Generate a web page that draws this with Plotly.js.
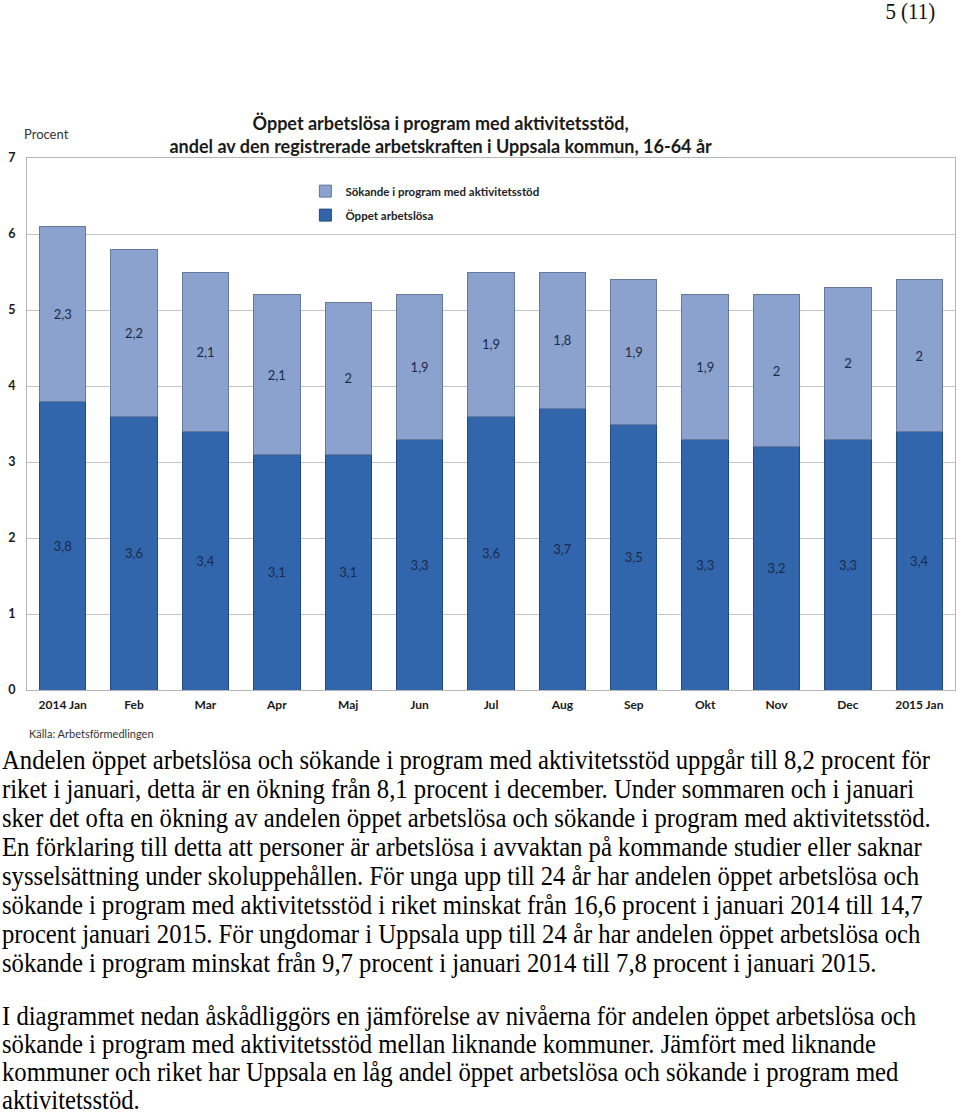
<!DOCTYPE html>
<html>
<head>
<meta charset="utf-8">
<script src="https://cdn.plot.ly/plotly-3.0.1.min.js"></script>
<style>
  html, body { margin:0; padding:0; background:#fff; }
  body { width:960px; height:1115px; position:relative; overflow:hidden; }
  #chart { position:absolute; left:0; top:0; width:960px; height:745px; z-index:1; }
  .pg { position:absolute; right:25px; top:-3px; z-index:5; font-family:"Liberation Serif","Times New Roman",serif; font-size:24px; line-height:28px; color:#111; transform:scaleX(0.87); transform-origin:100% 0; }
  .txt { position:absolute; left:2px; z-index:2; font-family:"Liberation Serif","Times New Roman",serif; font-size:27px; color:#000; white-space:nowrap; line-height:29px; transform-origin:0 0; }
  #measure { position:absolute; left:0; top:-200px; font-family:"Liberation Serif","Times New Roman",serif; font-size:27px; white-space:nowrap; visibility:hidden; }
</style>
</head>
<body>
<div id="chart"></div>
<div class="pg">5 (11)</div>
<span id="measure">Andelen öppet arbetslösa och sökande i program med aktivitetsstöd uppgår till 8,2 procent för</span>
<div class="txt" id="p1" style="top:746px;">
Andelen öppet arbetslösa och sökande i program med aktivitetsstöd uppgår till 8,2 procent för<br>
riket i januari, detta är en ökning från 8,1 procent i december. Under sommaren och i januari<br>
sker det ofta en ökning av andelen öppet arbetslösa och sökande i program med aktivitetsstöd.<br>
En förklaring till detta att personer är arbetslösa i avvaktan på kommande studier eller saknar<br>
sysselsättning under skoluppehållen. För unga upp till 24 år har andelen öppet arbetslösa och<br>
sökande i program med aktivitetsstöd i riket minskat från 16,6 procent i januari 2014 till 14,7<br>
procent januari 2015. För ungdomar i Uppsala upp till 24 år har andelen öppet arbetslösa och<br>
sökande i program minskat från 9,7 procent i januari 2014 till 7,8 procent i januari 2015.
</div>
<div class="txt" id="p2" style="top:1002px; line-height:28px;">
I diagrammet nedan åskådliggörs en jämförelse av nivåerna för andelen öppet arbetslösa och<br>
sökande i program med aktivitetsstöd mellan liknande kommuner. Jämfört med liknande<br>
kommuner och riket har Uppsala en låg andel öppet arbetslösa och sökande i program med<br>
aktivitetsstöd.
</div>
<script>
(function(){
  const w = document.getElementById('measure').getBoundingClientRect().width;
  const s = 928 / w;
  document.getElementById('p1').style.transform = 'scaleX(' + s + ')';
  document.getElementById('p2').style.transform = 'scaleX(' + s + ')';
})();

const months = ["2014 Jan","Feb","Mar","Apr","Maj","Jun","Jul","Aug","Sep","Okt","Nov","Dec","2015 Jan"];
const oppetArbetslosa = [3.8,3.6,3.4,3.1,3.1,3.3,3.6,3.7,3.5,3.3,3.2,3.3,3.4];
const sokandeProgram = [2.3,2.2,2.1,2.1,2.0,1.9,1.9,1.8,1.9,1.9,2.0,2.0,2.0];
const yTicks = [0,1,2,3,4,5,6,7];

const fmt = v => String(v).replace('.', ',');
const F = "Lato, 'Open Sans', sans-serif";

const traces = [
  {
    type:'bar', name:'Öppet arbetslösa', x:months, y:oppetArbetslosa,
    text: oppetArbetslosa.map(fmt), textposition:'inside', insidetextanchor:'middle',
    textangle:0, constraintext:'none',
    textfont:{family:F, size:13, color:'#1c2a4a'},
    marker:{color:'#3166ad', line:{color:'#24497e', width:1}},
    legendgroup:'a', legendrank:2, hoverinfo:'x+y'
  },
  {
    type:'bar', name:'Sökande i program med aktivitetsstöd', x:months, y:sokandeProgram,
    text: sokandeProgram.map(fmt), textposition:'inside', insidetextanchor:'middle',
    textangle:0, constraintext:'none',
    textfont:{family:F, size:13, color:'#1c2a4a'},
    marker:{color:'#8aa2cd', line:{color:'#66789c', width:1}},
    legendgroup:'b', legendrank:1, hoverinfo:'x+y'
  }
];

const layout = {
  width:960, height:745,
  margin:{l:27, r:5, t:158, b:55},
  barmode:'stack', bargap:0.35,
  paper_bgcolor:'rgba(255,255,255,0)', plot_bgcolor:'#fff',
  font:{family:F, color:'#222'},
  showlegend:true,
  legend:{x:0.300, y:0.965, xanchor:'left', yanchor:'top', traceorder:'grouped', tracegroupgap:5,
          font:{family:F, size:11.5, color:'#222', weight:'bold'}, bgcolor:'rgba(0,0,0,0)', itemwidth:30},
  title:{text:'<b>Öppet arbetslösa i program med aktivitetsstöd,<br>andel av den registrerade arbetskraften i Uppsala kommun, 16-64 år</b>',
         xref:'container', x:0.459, xanchor:'center', yref:'container', y:1-130/745, yanchor:'middle',
         font:{family:F, size:18, color:'#1a1a1a'}},
  xaxis:{type:'category', tickfont:{family:F, size:12, color:'#1a1a1a', weight:'bold'},
         showline:true, linecolor:'#b5b5b5', mirror:true, ticks:'', ticklabelstandoff:4, fixedrange:true},
  yaxis:{range:[0,7], tickvals:yTicks, ticktext:yTicks.map(String),
         tickfont:{family:F, size:12.5, color:'#1a1a1a', weight:'bold'},
         showgrid:true, gridcolor:'#c4c4c4', showline:true, linecolor:'#b5b5b5', mirror:true,
         ticks:'', ticklabelstandoff:8, zeroline:false, fixedrange:true},
  annotations:[
    {text:'Procent', xref:'paper', yref:'paper', x:-5/928, y:(690-134)/532, xanchor:'left', yanchor:'middle',
     showarrow:false, font:{family:F, size:13, color:'#333'}},
    {text:'Källa: Arbetsförmedlingen', xref:'paper', yref:'paper', x:0, y:(690-733)/532, xanchor:'left', yanchor:'middle',
     showarrow:false, font:{family:F, size:11, color:'#333'}}
  ]
};

Plotly.newPlot('chart', traces, layout, {displayModeBar:false, staticPlot:true});
</script>
</body>
</html>
